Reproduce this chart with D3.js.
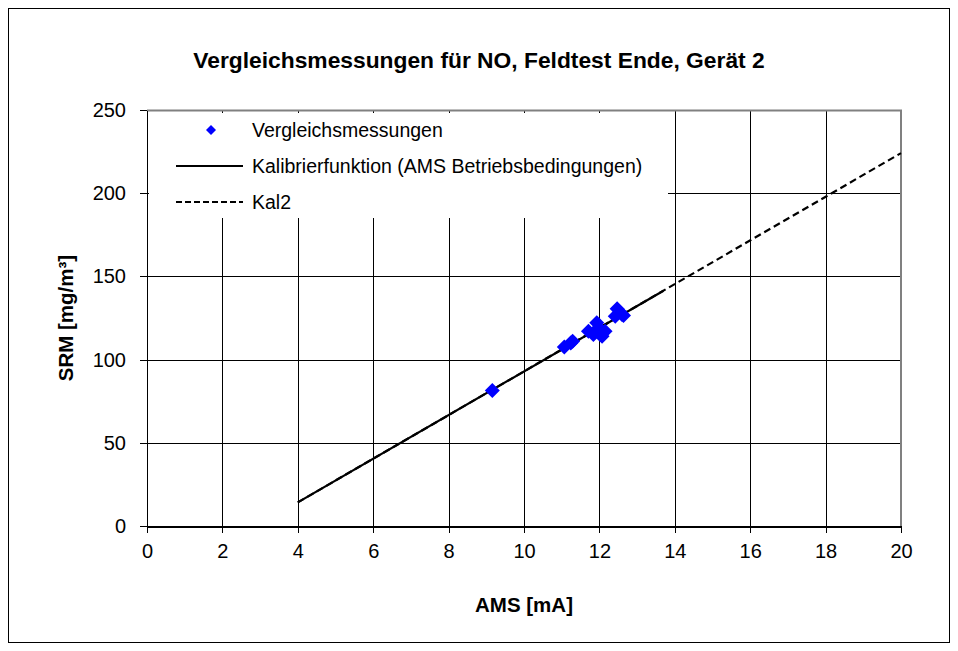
<!DOCTYPE html>
<meta charset="utf-8">
<style>
body { margin: 0; background: #fff; }
text { font-family: "Liberation Sans", Arial, sans-serif; fill: #000; }
.grid line { stroke: #000; stroke-width: 1; shape-rendering: crispEdges; }
.axis path, .axis line { stroke: #000; shape-rendering: crispEdges; }
.axis text { font-size: 20px; font-family: "Liberation Sans", Arial, sans-serif; }
.title { font-size: 22.8px; font-weight: bold; }
.label { font-size: 20.5px; font-weight: bold; }
.legend text { font-size: 19.5px; }
</style>
<svg width="958" height="651"></svg>
<script src="https://cdn.jsdelivr.net/npm/d3@7"></script>
<script>

// Vergleichsmessungen (AMS [mA] vs SRM [mg/m³])
var amsValues = [9.16, 11.07, 11.29, 11.24, 11.71, 11.84, 11.93, 11.98, 12.02, 12.07, 12.15, 12.42, 12.47, 12.60, 12.64];
var srmValues = [81.5, 107.5, 111.1, 110.0, 117.1, 115.1, 122.1, 119.1, 115.1, 114.0, 117.1, 126.1, 130.5, 127.1, 126.5];

// Kalibrierfunktion (durchgezogen) und Kal2 (gestrichelt)
var kalX = [4, 13.7], kalY = [14.2, 141.4];
var kal2X = [4, 20], kal2Y = [14.2, 224.1];

var xTicks = [0, 2, 4, 6, 8, 10, 12, 14, 16, 18, 20];
var yTicks = [0, 50, 100, 150, 200, 250];

var legendLabels = ["Vergleichsmessungen", "Kalibrierfunktion (AMS Betriebsbedingungen)", "Kal2"];

var svg = d3.select("svg");

var margin = {left: 147, right: 57, top: 110, bottom: 125},
    width = 958 - margin.left - margin.right,
    height = 651 - margin.top - margin.bottom;

var x = d3.scaleLinear().domain([0, 20]).range([0, width]);
var y = d3.scaleLinear().domain([0, 250]).range([height, 0]);

// outer frame
svg.append("rect")
    .attr("x", 8.5).attr("y", 8.5)
    .attr("width", 941).attr("height", 634)
    .attr("fill", "none").attr("stroke", "#000");

svg.append("text")
    .attr("class", "title")
    .attr("x", 479).attr("y", 68)
    .attr("text-anchor", "middle")
    .text("Vergleichsmessungen für NO, Feldtest Ende, Gerät 2");

var g = svg.append("g").attr("transform", "translate(" + margin.left + "," + margin.top + ")");

// gridlines
g.append("g").attr("class", "grid")
  .selectAll("line")
  .data(xTicks.filter(function(d) { return d > 0 && d < 20; }))
  .enter().append("line")
    .attr("x1", function(d) { return Math.round(x(d)) + 0.5; })
    .attr("x2", function(d) { return Math.round(x(d)) + 0.5; })
    .attr("y1", 0).attr("y2", height);

g.append("g").attr("class", "grid")
  .selectAll("line")
  .data(yTicks.filter(function(d) { return d > 0 && d < 250; }))
  .enter().append("line")
    .attr("y1", function(d) { return Math.round(y(d)) + 0.5; })
    .attr("y2", function(d) { return Math.round(y(d)) + 0.5; })
    .attr("x1", 0).attr("x2", width);

// plot border (top/right gray)
g.append("path")
    .attr("d", "M0,0.5H" + width + "V" + height)
    .attr("fill", "none").attr("stroke", "#808080").attr("stroke-width", 2);

// legend background (hides grid)
var legend = g.append("g").attr("class", "legend");
legend.append("rect")
    .attr("x", 2).attr("y", 3)
    .attr("width", 519).attr("height", 105)
    .attr("fill", "#fff");

// axes
var xAxis = g.append("g").attr("class", "axis")
    .attr("transform", "translate(0," + height + ")")
    .call(d3.axisBottom(x).tickValues(xTicks).tickSize(7).tickSizeOuter(0).tickPadding(11));
xAxis.select(".domain").attr("stroke", "#808080").attr("stroke-width", 2);

var yAxis = g.append("g").attr("class", "axis")
    .call(d3.axisLeft(y).tickValues(yTicks).tickSize(7).tickSizeOuter(0).tickPadding(14));

// lines
var line = d3.line()
    .x(function(d) { return x(d[0]); })
    .y(function(d) { return y(d[1]); });

g.append("path")
    .datum(d3.zip(kal2X, kal2Y))
    .attr("d", line)
    .attr("fill", "none").attr("stroke", "#000")
    .attr("stroke-width", 2.2).attr("stroke-dasharray", "7,4");

g.append("path")
    .datum(d3.zip(kalX, kalY))
    .attr("d", line)
    .attr("fill", "none").attr("stroke", "#000")
    .attr("stroke-width", 2.2);

// points
var diamond = function(r) { return "M0," + (-r) + "L" + r + ",0L0," + r + "L" + (-r) + ",0Z"; };

g.selectAll(".pt")
  .data(d3.zip(amsValues, srmValues))
  .enter().append("path")
    .attr("class", "pt")
    .attr("transform", function(d) { return "translate(" + x(d[0]) + "," + y(d[1]) + ")"; })
    .attr("d", diamond(7.5))
    .attr("fill", "#0000ff");

// legend items
var rows = [20, 56, 92];
legend.append("path")
    .attr("transform", "translate(64," + rows[0] + ")")
    .attr("d", diamond(5))
    .attr("fill", "#0000ff");
legend.append("line")
    .attr("x1", 29).attr("x2", 96)
    .attr("y1", rows[1]).attr("y2", rows[1])
    .attr("stroke", "#000").attr("stroke-width", 2.2);
legend.append("line")
    .attr("x1", 29).attr("x2", 96)
    .attr("y1", rows[2]).attr("y2", rows[2])
    .attr("stroke", "#000").attr("stroke-width", 2.2).attr("stroke-dasharray", "6,3");
legend.selectAll("text.lg")
  .data(legendLabels)
  .enter().append("text")
    .attr("class", "lg")
    .attr("x", 105)
    .attr("y", function(d, i) { return rows[i]; })
    .attr("dy", "0.35em")
    .text(function(d) { return d; });

// axis titles
svg.append("text")
    .attr("class", "label")
    .attr("x", 524).attr("y", 612)
    .attr("text-anchor", "middle")
    .text("AMS [mA]");

svg.append("text")
    .attr("class", "label")
    .attr("transform", "translate(73,318) rotate(-90)")
    .attr("text-anchor", "middle")
    .text("SRM [mg/m³]");

</script>
